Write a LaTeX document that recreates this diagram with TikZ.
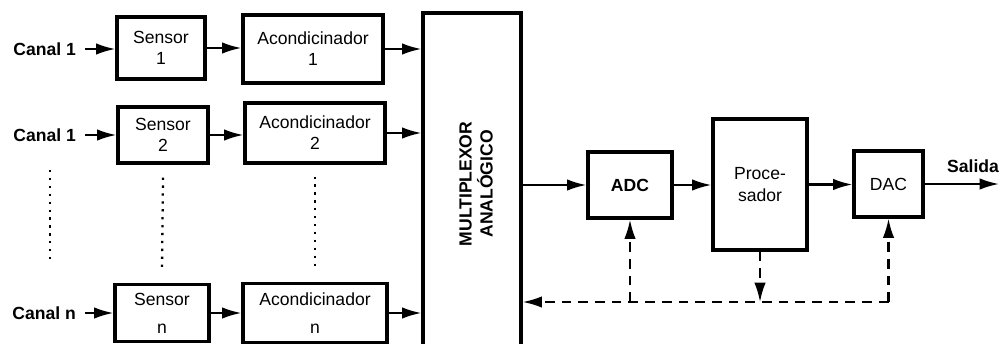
\documentclass[tikz,border=0pt]{standalone}
\usepackage{fontspec}
\setmainfont{Liberation Sans}
\usetikzlibrary{arrows.meta,calc}
\tikzset{
  block/.style={
    draw=black,
    line width=1.8pt,
    align=center,
    inner sep=0pt,
    font=\fontsize{10}{12}\selectfont
  },
  boxsize/.style 2 args={
    minimum width=#1*0.02cm,
    minimum height=#2*0.02cm
  },
  sig/.style={
    line width=1.2pt,
    -{Latex[length=11pt,width=6.5pt]}
  },
  fb/.style={
    sig,
    dash pattern=on 5.5pt off 4pt
  },
  dotcol/.style={
    line width=1.3pt,
    dash pattern=on 1.3pt off 3.2pt
  },
  label/.style={
    font=\bfseries\fontsize{10}{12}\selectfont,
    inner sep=1pt
  }
}

\begin{document}
\begin{tikzpicture}[x=0.02cm, y=-0.02cm]
  \useasboundingbox (0,0) rectangle (999,344);
  % canales
  \node[label, anchor=east] (c1) at (78,49)  {Canal 1};
  \node[label, anchor=east] (c2) at (78,135) {Canal 1};
  \node[label, anchor=east] (cn) at (78,313) {Canal n};
  % sensores
  \node[block, boxsize={88}{62}] (s1) at (161,48)  {Sensor\\1};
  \node[block, boxsize={90}{56}] (s2) at (163,135) {Sensor\\2};
  \node[block, boxsize={94}{57}] (sn) at (162,313) {Sensor\\[4pt]n};
  % acondicionadores
  \node[block, boxsize={140}{68}] (a1) at (313,49)  {Acondicinador\\1};
  \node[block, boxsize={140}{60}] (a2) at (315,133) {Acondicinador\\2};
  \node[block, boxsize={144}{59}] (an) at (315,313) {Acondicinador\\[4pt]n};
  % multiplexor
  \node[block, boxsize={98}{350}] (mux) at (472,188) {};
  \node[label, rotate=90, align=center] (muxtxt) at (476,184)
    {MULTIPLEXOR\\ANALÓGICO};
  % etapa digital
  \node[block, boxsize={84}{66}, font=\bfseries\fontsize{10}{12}\selectfont]
    (adc) at (630,185) {ADC};
  \node[block, boxsize={94}{131}] (proc) at (760,184.5) {Proce-\\sador};
  \node[block, boxsize={69}{66}] (dac) at (888.5,184) {DAC};
  \coordinate (out) at (999,184);
  \node[label, anchor=west] (sal) at (945,166) {Salida};
  % flechas
  \draw[sig] ([xshift=4pt]c1.east) -- (c1 -| s1.west);
  \draw[sig] ([xshift=4pt]c2.east) -- (c2 -| s2.west);
  \draw[sig] ([xshift=4pt]cn.east) -- (cn -| sn.west);
  \draw[sig] (s1.east) -- (s1 -| a1.west);
  \draw[sig] (s2.east) -- (s2 -| a2.west);
  \draw[sig] (sn.east) -- (sn -| an.west);
  \draw[sig] (a1.east) -- (a1 -| mux.west);
  \draw[sig] (a2.east) -- (a2 -| mux.west);
  \draw[sig] (an.east) -- (an -| mux.west);
  \draw[sig] (adc -| mux.east) -- (adc.west);
  \draw[sig] (adc.east) -- (adc -| proc.west);
  \draw[sig] (proc.east) -- (proc -| dac.west);
  \draw[sig] (dac.east) -- (out);
  % lineas punteadas
  \draw[dotcol] (50,170) -- (50,263);
  \draw[dotcol] ($(s2.south)+(0,13)$) -- ($(sn.north)+(0,-14)$);
  \draw[dotcol] ($(a2.south)+(0,12)$) -- ($(an.north)+(0,-13)$);
  % realimentacion
  \coordinate (fbR) at (888.5,302);
  \draw[fb] (proc.south) -- (proc.south |- fbR);
  \draw[fb] (fbR) -- (dac.south);
  \draw[fb] (fbR) -- (fbR -| mux.east);
  \draw[fb] (adc.south |- fbR) -- (adc.south);
\end{tikzpicture}
\end{document}
